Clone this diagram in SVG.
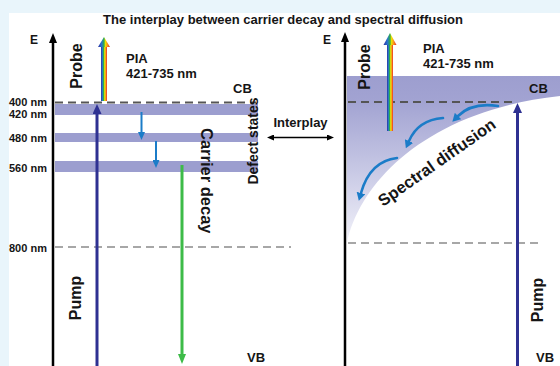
<svg xmlns="http://www.w3.org/2000/svg" width="560" height="366" viewBox="0 0 560 366">
<style>
text{font-family:"Liberation Sans",Arial,sans-serif;font-weight:bold;fill:#151515}
.lbl{font-size:11px}
.big{font-size:16px}
.mid{font-size:13px}
.band{fill:#9c9ecf}
.dash1{stroke:#555;stroke-width:1.8;stroke-dasharray:8 5;fill:none}
.dash2{stroke:#8a8a8a;stroke-width:1.6;stroke-dasharray:8 5;fill:none}
.axis{stroke:#000;stroke-width:2.5;fill:none}
.pump{stroke:#2e3192;stroke-width:3;fill:none}
.sblue{stroke:#1b7cc8;stroke-width:2;fill:none}
.curv{stroke:#1b7cc8;stroke-width:2.6;fill:none;stroke-linecap:round}
.green{stroke:#3dbb48;stroke-width:3;fill:none}
</style>
<defs>
<linearGradient id="rb" x1="0" y1="0" x2="1" y2="0">
<stop offset="0" stop-color="#2b2f9e"/>
<stop offset="0.22" stop-color="#2a72d0"/>
<stop offset="0.42" stop-color="#2fae48"/>
<stop offset="0.62" stop-color="#f3e200"/>
<stop offset="0.8" stop-color="#f7961c"/>
<stop offset="1" stop-color="#e8262a"/>
</linearGradient>
<linearGradient id="rbh" x1="0" y1="0" x2="1" y2="0">
<stop offset="0" stop-color="#2b2f9e"/>
<stop offset="0.3" stop-color="#2a72d0"/>
<stop offset="0.5" stop-color="#2fae48"/>
<stop offset="0.62" stop-color="#f3e200"/>
<stop offset="0.78" stop-color="#f7961c"/>
<stop offset="1" stop-color="#e8262a"/>
</linearGradient>
<linearGradient id="shade" gradientUnits="userSpaceOnUse" x1="0" y1="76" x2="0" y2="245">
<stop offset="0" stop-color="#9d9ecf"/>
<stop offset="0.15" stop-color="#a2a3d2"/>
<stop offset="0.5" stop-color="#c2c3e2"/>
<stop offset="1" stop-color="#f3f3fa"/>
</linearGradient>
<marker id="mAxis" markerUnits="userSpaceOnUse" viewBox="0 0 10 8" markerWidth="10" markerHeight="8" refX="0" refY="4" orient="auto"><path d="M0,0 L10,4 L0,8 z" fill="#000"/></marker>
<marker id="mPump" markerUnits="userSpaceOnUse" viewBox="0 0 10 9" markerWidth="10" markerHeight="9" refX="0" refY="4.5" orient="auto"><path d="M0,0 L10,4.5 L0,9 z" fill="#2e3192"/></marker>
<marker id="mGreen" markerUnits="userSpaceOnUse" viewBox="0 0 10 8" markerWidth="10" markerHeight="8" refX="0" refY="4" orient="auto"><path d="M0,0 L10,4 L0,8 z" fill="#3dbb48"/></marker>
<marker id="mBlue" markerUnits="userSpaceOnUse" viewBox="0 0 8 7" markerWidth="8" markerHeight="7" refX="0" refY="3.5" orient="auto"><path d="M0,0 L8,3.5 L0,7 z" fill="#1b7cc8"/></marker>
<marker id="mCurv" markerUnits="userSpaceOnUse" viewBox="0 0 8 9" markerWidth="8" markerHeight="9" refX="0" refY="4.5" orient="auto"><path d="M0,0 L8,4.5 L0,9 z" fill="#1b7cc8"/></marker>
<marker id="mBlk" markerUnits="userSpaceOnUse" viewBox="0 0 7 6" markerWidth="7" markerHeight="6" refX="0" refY="3" orient="auto-start-reverse"><path d="M0,0 L7,3 L0,6 z" fill="#000"/></marker>
</defs>

<rect x="0" y="0" width="560" height="366" fill="#e9f5fb"/>
<rect x="9" y="13" width="551" height="353" fill="#fff"/>

<g id="title"><text x="283" y="24" text-anchor="middle" style="font-size:13px">The interplay between carrier decay and spectral diffusion</text></g>

<g id="left-panel">
<g id="left-bands">
<rect class="band" x="55" y="104" width="203" height="11"/>
<rect class="band" x="55" y="133" width="203" height="9"/>
<rect class="band" x="55" y="161" width="203" height="11"/>
</g>
<line class="dash1" x1="55" y1="102.5" x2="256" y2="102.5"/>
<line class="dash2" x1="55" y1="247" x2="291" y2="247"/>
<g id="left-labels">
<text class="lbl" x="9" y="106">400 nm</text>
<text class="lbl" x="9" y="117.5">420 nm</text>
<text class="lbl" x="9" y="142">480 nm</text>
<text class="lbl" x="9" y="172">560 nm</text>
<text class="lbl" x="9" y="251.5">800 nm</text>
<text style="font-size:12px" x="30" y="44">E</text>
<text class="big" transform="translate(82,66) rotate(-90)" text-anchor="middle">Probe</text>
<text class="big" transform="translate(81,298) rotate(-90)" text-anchor="middle">Pump</text>
<text class="mid" x="126" y="63">PIA</text>
<text class="mid" x="126" y="78">421-735 nm</text>
<text style="font-size:13px" x="233" y="93">CB</text>
<text style="font-size:13px" x="247" y="362">VB</text>
<text style="font-size:16.5px" transform="translate(201,128) rotate(90)">Carrier decay</text>
<text style="font-size:14px" transform="translate(258,141) rotate(-90)" text-anchor="middle">Defect states</text>
</g>
<g id="left-probe">
<rect x="101" y="46" width="6" height="55" fill="url(#rb)"/>
<polygon points="98,47 104,37 110,47" fill="url(#rbh)"/>
</g>
</g>

<g id="interplay">
<text style="font-size:13px" x="300.5" y="127" text-anchor="middle">Interplay</text>
</g>

<g id="right-panel">
<path d="M347,76 L560,76 L560,96 C430,110 360,180 347,243 Z" fill="url(#shade)"/>
<line class="dash1" x1="348" y1="102" x2="515" y2="102"/>
<line class="dash2" x1="348" y1="243" x2="538" y2="243"/>
<text style="font-size:12px" x="323" y="44">E</text>
<text class="big" transform="translate(370,67) rotate(-90)" text-anchor="middle">Probe</text>
<text class="big" transform="translate(543,300) rotate(-90)" text-anchor="middle">Pump</text>
<text class="mid" x="423" y="53">PIA</text>
<text class="mid" x="423" y="68">421-735 nm</text>
<text style="font-size:13px" x="529" y="93">CB</text>
<text style="font-size:13px" x="536" y="362">VB</text>
<text style="font-size:16.5px" transform="translate(440,167) rotate(-35)" text-anchor="middle">Spectral diffusion</text>
<g id="right-probe">
<rect x="387" y="44" width="6" height="87" fill="url(#rb)"/>
<polygon points="383.5,45 390,33 396.5,45" fill="url(#rbh)"/>
</g>
</g>

<g id="connectors">
<line class="axis" x1="53" y1="366" x2="53" y2="43" marker-end="url(#mAxis)"/>
<line class="axis" x1="345" y1="366" x2="345" y2="42" marker-end="url(#mAxis)"/>
<line class="pump" x1="97" y1="366" x2="97" y2="114" marker-end="url(#mPump)"/>
<line class="pump" x1="517.5" y1="366" x2="517.5" y2="113" marker-end="url(#mPump)"/>
<line class="green" x1="182" y1="165" x2="182" y2="354" marker-end="url(#mGreen)"/>
<line class="sblue" x1="141.5" y1="112" x2="141.5" y2="132" marker-end="url(#mBlue)"/>
<line class="sblue" x1="156" y1="141" x2="156" y2="160" marker-end="url(#mBlue)"/>
<line stroke="#000" stroke-width="1.5" x1="274" y1="137.5" x2="327" y2="137.5" marker-start="url(#mBlk)" marker-end="url(#mBlk)"/>
<path class="curv" d="M498,106 Q472,102 458,116" marker-end="url(#mCurv)"/>
<path class="curv" d="M443,118 Q418,120 409,141" marker-end="url(#mCurv)"/>
<path class="curv" d="M397,158 Q370,161 361,193" marker-end="url(#mCurv)"/>
</g>
</svg>
